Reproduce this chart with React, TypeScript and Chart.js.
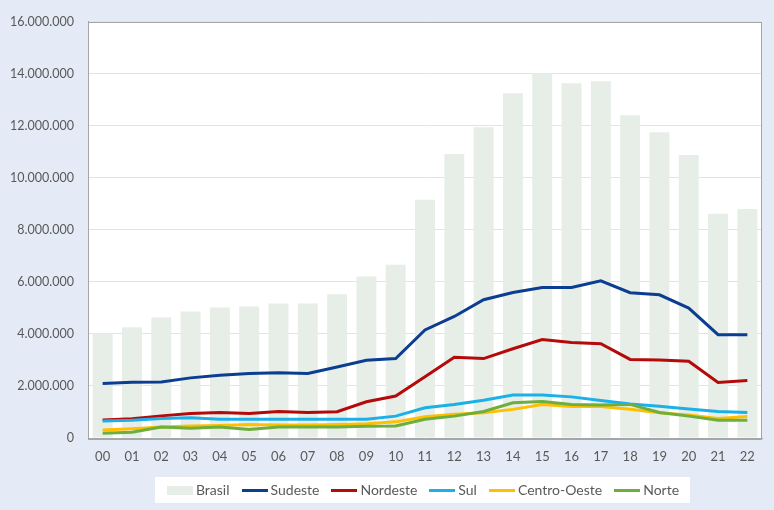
import React, { useEffect, useRef } from "react";
import { Chart, registerables } from "chart.js";
Chart.register(...registerables);

const categories = ["00","01","02","03","04","05","06","07","08","09","10","11","12","13","14","15","16","17","18","19","20","21","22"];
const brasil = [4020000,4250000,4630000,4860000,5010000,5050000,5170000,5170000,5520000,6200000,6660000,9150000,10910000,11940000,13240000,14010000,13630000,13700000,12400000,11750000,10870000,8610000,8800000];
const sudeste = [2090000,2140000,2150000,2310000,2410000,2480000,2510000,2480000,2730000,2990000,3050000,4150000,4670000,5310000,5590000,5780000,5780000,6040000,5580000,5500000,4990000,3970000,3970000];
const nordeste = [690000,740000,850000,940000,980000,940000,1020000,980000,1010000,1390000,1610000,2350000,3100000,3050000,3430000,3780000,3670000,3620000,3020000,3000000,2950000,2130000,2210000];
const sul = [650000,680000,750000,780000,720000,720000,720000,720000,720000,720000,840000,1160000,1290000,1450000,1650000,1650000,1580000,1440000,1310000,1220000,1110000,1020000,980000];
const centroOeste = [310000,360000,420000,460000,480000,520000,500000,500000,520000,550000,620000,820000,910000,970000,1100000,1290000,1210000,1210000,1100000,970000,880000,750000,830000];
const norte = [180000,220000,420000,370000,420000,330000,420000,420000,420000,450000,460000,720000,840000,1020000,1350000,1400000,1290000,1270000,1290000,980000,840000,680000,680000];
const yTicks = [0,2000000,4000000,6000000,8000000,10000000,12000000,14000000,16000000];

const FONT = "Lato";
const TEXT = "#595959";

function fmt(v: number) {
  return String(Math.round(v)).replace(/\B(?=(\d{3})+(?!\d))/g, ".");
}

function marker(color: string, h: number) {
  const c = document.createElement("canvas");
  c.width = 26;
  c.height = h;
  const x = c.getContext("2d")!;
  x.fillStyle = color;
  x.fillRect(0, 0, 26, h);
  return c;
}

export default function App() {
  const ref = useRef<HTMLCanvasElement>(null);
  useEffect(() => {
    document.body.style.margin = "0";

    const lineDs = (label: string, data: number[], color: string, order: number) => ({
      type: "line" as const,
      label,
      data,
      borderColor: color,
      backgroundColor: color,
      borderWidth: 3,
      pointRadius: 0,
      tension: 0,
      order,
    });

    const SHIFT = 44;
    const bgPlugin = {
      id: "bg",
      afterUpdate(chart: any) {
        const lg = chart.legend;
        if (lg) {
          lg.left += SHIFT;
          lg.right += SHIFT;
          (lg.legendHitBoxes || []).forEach((h: any) => { h.left += SHIFT; });
        }
      },
      beforeDraw(chart: any) {
        const { ctx, chartArea } = chart;
        ctx.save();
        ctx.fillStyle = "#FFFFFF";
        ctx.fillRect(chartArea.left, chartArea.top, chartArea.right - chartArea.left, chartArea.bottom - chartArea.top);
        const hb = chart.legend && chart.legend.legendHitBoxes;
        if (hb && hb.length) {
          let l = Infinity, r = -Infinity;
          hb.forEach((h: any) => { l = Math.min(l, h.left); r = Math.max(r, h.left + h.width); });
          const cy = hb[0].top + hb[0].height / 2;
          ctx.fillRect(l - 16, cy - 13, r - l + 27, 26);
        }
        ctx.restore();
      },
      beforeDatasetsDraw(chart: any) {
        const { ctx, chartArea } = chart;
        ctx.save();
        ctx.strokeStyle = "#A6A6A6";
        ctx.lineWidth = 1;
        ctx.strokeRect(Math.round(chartArea.left) + 0.5, Math.round(chartArea.top) + 0.5, Math.round(chartArea.right - chartArea.left) - 1, Math.round(chartArea.bottom - chartArea.top));
        ctx.restore();
      },
    };

    const chart = new Chart(ref.current!, {
      type: "bar",
      data: {
        labels: categories,
        datasets: [
          {
            type: "bar" as const,
            label: "Brasil",
            data: brasil,
            backgroundColor: "#E6EEE7",
            borderWidth: 0,
            categoryPercentage: 1,
            barPercentage: 0.68,
            order: 10,
          },
          lineDs("Sudeste", sudeste, "#0B3D91", 5),
          lineDs("Nordeste", nordeste, "#B40A0A", 4),
          lineDs("Sul", sul, "#1CB0E8", 3),
          lineDs("Centro-Oeste", centroOeste, "#FFC000", 2),
          lineDs("Norte", norte, "#6DAE3C", 1),
        ] as any,
      },
      options: {
        responsive: false,
        animation: false,
        layout: { padding: { top: 8, right: 12, left: 0, bottom: 3 } },
        plugins: {
          tooltip: { enabled: false },
          legend: {
            position: "bottom",
            labels: {
              usePointStyle: true,
              pointStyleWidth: 18,
              padding: 16,
              color: TEXT,
              font: { family: FONT, size: 14 },
              sort: (a: any, b: any) => a.datasetIndex - b.datasetIndex,
              generateLabels: (ch: any) =>
                ch.data.datasets.map((ds: any, i: number) => ({
                  text: ds.label,
                  datasetIndex: i,
                  fillStyle: ds.backgroundColor,
                  strokeStyle: ds.type === "bar" ? "rgba(0,0,0,0)" : ds.borderColor,
                  lineWidth: 0,
                  pointStyle: ds.type === "bar" ? marker(ds.backgroundColor, 9) : marker(ds.borderColor, 3),
                  hidden: false,
                  fontColor: TEXT,
                })),
            },
          },
        },
        scales: {
          x: {
            offset: true,
            grid: { display: false, drawTicks: false },
            border: { display: true, color: "#A6A6A6" },
            ticks: { color: TEXT, font: { family: FONT, size: 13 }, padding: 11, maxRotation: 0, autoSkip: false },
            afterFit: (s: any) => { s.height = 29; },
          },
          y: {
            min: 0,
            max: 16000000,
            afterBuildTicks: (s: any) => { s.ticks = yTicks.map((v) => ({ value: v })); },
            grid: { color: "#E3E3E3", drawTicks: false },
            border: { display: true, color: "#A6A6A6" },
            ticks: { color: TEXT, font: { family: FONT, size: 12.5 }, padding: 14, callback: (v: any) => fmt(Number(v)) },
            afterFit: (s: any) => { s.width = 88; },
          },
        },
      },
      plugins: [bgPlugin],
    });
    return () => chart.destroy();
  }, []);
  return (
    <div style={{ width: 774, height: 510, background: "#E4EBF6" }}>
      <canvas ref={ref} width={774} height={510} style={{ display: "block" }} />
    </div>
  );
}
